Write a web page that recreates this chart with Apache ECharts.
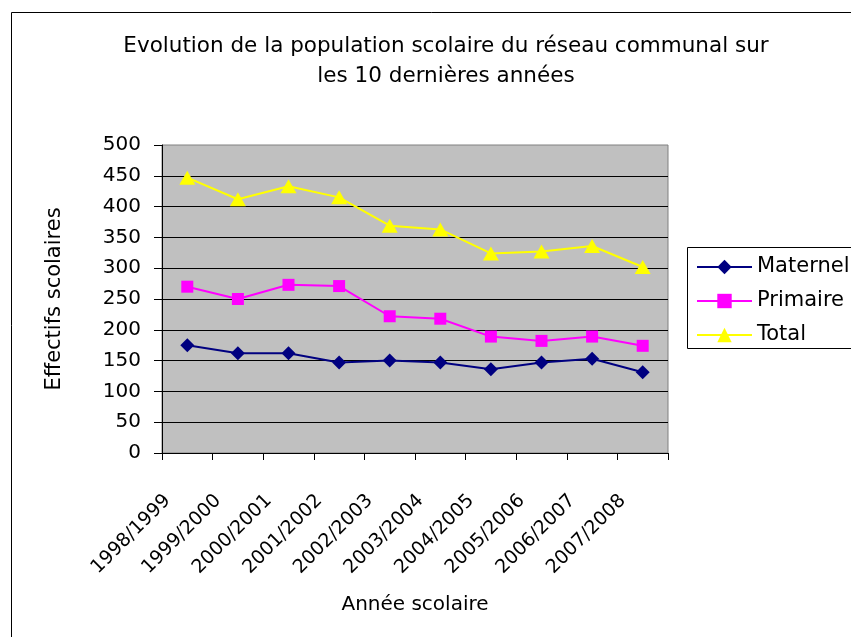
<!DOCTYPE html>
<html>
<head>
<meta charset="utf-8">
<script src="https://cdn.jsdelivr.net/npm/echarts@6/dist/echarts.min.js"></script>
<style>
  html, body { margin: 0; padding: 0; background: #ffffff; }
  #chart { width: 851px; height: 637px; }
</style>
</head>
<body>
<div id="chart"></div>
<script>
// School years on the category axis
const years = ['1998/1999', '1999/2000', '2000/2001', '2001/2002', '2002/2003',
               '2003/2004', '2004/2005', '2005/2006', '2006/2007', '2007/2008'];

// Pupil counts per school year
const maternel = [175, 162, 162, 147, 150, 147, 136, 147, 153, 131];
const primaire = [270, 250, 273, 271, 222, 218, 189, 182, 189, 174];
const total    = [447, 412, 433, 415, 369, 363, 324, 327, 336, 302];

const FONT = '"DejaVu Sans", "Liberation Sans", Arial, sans-serif';

const chart = echarts.init(document.getElementById('chart'), null, { renderer: 'canvas' });

chart.setOption({
  backgroundColor: '#ffffff',
  animation: false,
  textStyle: { fontFamily: FONT, color: '#000000' },
  title: {
    text: 'Evolution de la population scolaire du réseau communal sur\nles 10 dernières années',
    left: 441,
    top: 26,
    textAlign: 'center',
    textStyle: { fontFamily: FONT, fontSize: 21.5, fontWeight: 'normal', color: '#000000', lineHeight: 30 }
  },
  graphic: [
    // outer chart frame
    { type: 'rect', z: -10, shape: { x: 11.5, y: 12.5, width: 900, height: 700 },
      style: { fill: '#ffffff', stroke: '#000000', lineWidth: 1 } },
    // legend frame
    { type: 'rect', z: -5, shape: { x: 687.5, y: 247.5, width: 200, height: 101 },
      style: { fill: '#ffffff', stroke: '#000000', lineWidth: 1 } }
  ],
  legend: {
    orient: 'vertical',
    left: 696,
    top: 255,
    padding: 0,
    itemWidth: 55,
    itemHeight: 18,
    itemGap: 10,
    z: 5,
    textStyle: { fontFamily: FONT, fontSize: 21, color: '#000000', lineHeight: 24 },
    data: ['Maternel', 'Primaire', 'Total']
  },
  grid: {
    left: 162, right: 183, top: 145, bottom: 184,
    show: true,
    backgroundColor: '#C0C0C0',
    borderColor: '#808080',
    borderWidth: 1
  },
  xAxis: {
    type: 'category',
    data: years,
    boundaryGap: true,
    name: 'Année scolaire',
    nameLocation: 'middle',
    nameGap: 142,
    nameTextStyle: { fontFamily: FONT, fontSize: 20, color: '#000000' },
    axisLine: { lineStyle: { color: '#000000', width: 1 } },
    axisTick: { show: true, length: 7, lineStyle: { color: '#000000' } },
    axisLabel: {
      interval: 0,
      rotate: 45,
      margin: 25,
      padding: [0, 28, 0, 0],
      fontFamily: FONT,
      fontSize: 19,
      color: '#000000'
    },
    splitLine: { show: false }
  },
  yAxis: {
    type: 'value',
    min: 0,
    max: 500,
    interval: 50,
    name: 'Effectifs scolaires',
    nameLocation: 'middle',
    nameGap: 97,
    nameTextStyle: { fontFamily: FONT, fontSize: 21, color: '#000000' },
    axisLine: { show: true, lineStyle: { color: '#000000', width: 1 } },
    axisTick: { show: true, length: 8, lineStyle: { color: '#000000' } },
    axisLabel: { margin: 21, fontFamily: FONT, fontSize: 20, color: '#000000' },
    splitLine: { show: true, showMinLine: false, showMaxLine: false, lineStyle: { color: '#000000', width: 1 } }
  },
  series: [
    {
      name: 'Maternel', type: 'line', data: maternel,
      symbol: 'diamond', symbolSize: 14, showAllSymbol: true,
      itemStyle: { color: '#000080' },
      lineStyle: { color: '#000080', width: 2 }
    },
    {
      name: 'Primaire', type: 'line', data: primaire,
      symbol: 'rect', symbolSize: 12, showAllSymbol: true,
      itemStyle: { color: '#FF00FF' },
      lineStyle: { color: '#FF00FF', width: 2 }
    },
    {
      name: 'Total', type: 'line', data: total,
      symbol: 'triangle', symbolSize: [16, 14], showAllSymbol: true,
      itemStyle: { color: '#FFFF00' },
      lineStyle: { color: '#FFFF00', width: 2 }
    }
  ]
});
</script>
</body>
</html>
